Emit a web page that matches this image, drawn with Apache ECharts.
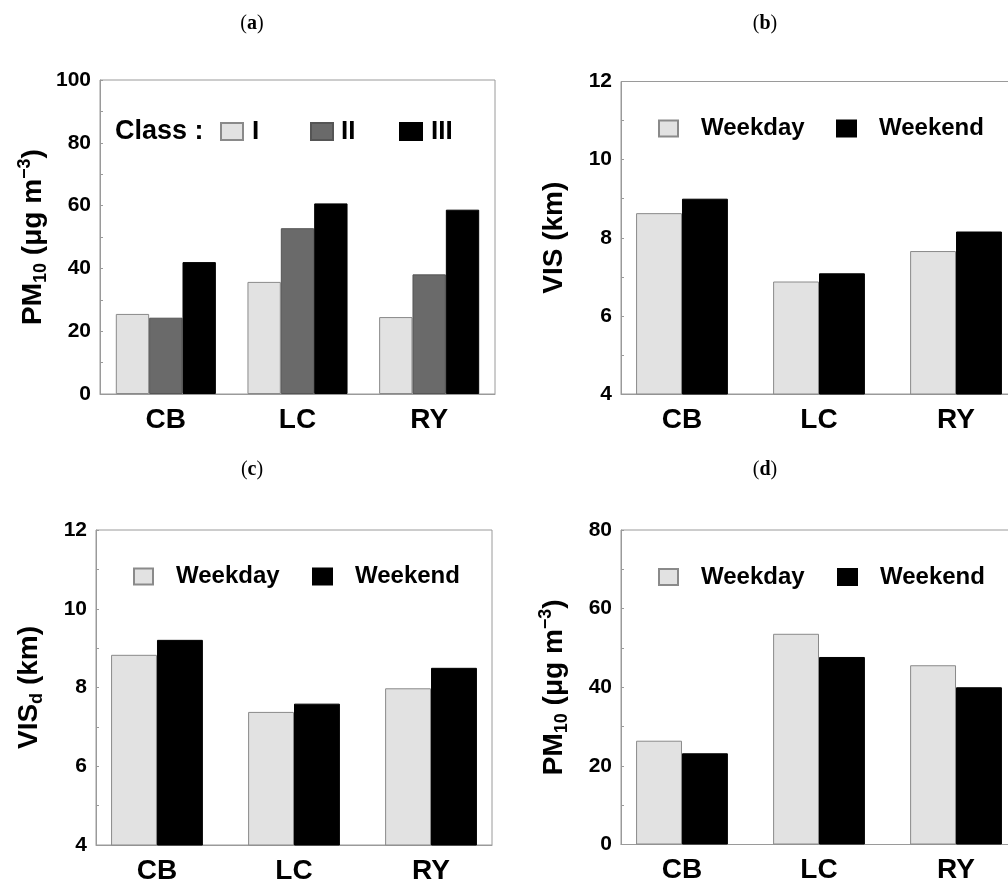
<!DOCTYPE html>
<html>
<head>
<meta charset="utf-8">
<script src="https://cdn.jsdelivr.net/npm/echarts@6/dist/echarts.min.js"></script>
<style>
html,body{margin:0;padding:0;background:#fff;overflow:hidden;}
#c{width:1030px;height:885px;}
</style>
</head>
<body>
<div id="c"></div>
<script>
// ---- data ----
const categories = ['CB', 'LC', 'RY'];
const classNames = ['I', 'II', 'III'];
const pm10ClassI   = [25.5, 35.7, 24.5];
const pm10ClassII  = [24.3, 52.8, 38.1];
const pm10ClassIII = [42.0, 60.7, 58.7];
const visWeekday   = [8.63, 6.88, 7.66];
const visWeekend   = [9.00, 7.09, 8.16];
const visdWeekday  = [8.83, 7.38, 7.98];
const visdWeekend  = [9.21, 7.59, 8.50];
const pmWeekday    = [26.4, 53.6, 45.6];
const pmWeekend    = [23.2, 47.7, 40.0];
const panelLabels  = ['a', 'b', 'c', 'd'];
const yNameA = '{b|PM}{sub|10}{b| (μg m}{sup|−3}{b|)}';
const yNameB = '{b|VIS (km)}';
const yNameC = '{b|VIS}{sub|d}{b| (km)}';
const yNameD = yNameA;

// ---- styles ----
const FONT = 'Liberation Sans';
const AXIS_COLOR = '#9a9a9a';
const LIGHT = {color: '#e2e2e2', borderColor: '#8a8a8a', borderWidth: 1};
const MID = {color: '#6a6a6a', borderColor: '#555', borderWidth: 1};
const DARK = {color: '#000', borderColor: '#000', borderWidth: 1};

const nameRich = {
  b: {fontFamily: FONT, fontWeight: 'bold', fontSize: 28, color: '#000', lineHeight: 34},
  sub: {fontFamily: FONT, fontWeight: 'bold', fontSize: 18, color: '#000', lineHeight: 18, verticalAlign: 'bottom'},
  sup: {fontFamily: FONT, fontWeight: 'bold', fontSize: 18, color: '#000', lineHeight: 18, verticalAlign: 'top'}
};

const grids = [
  {left: 100, top: 80, width: 395, height: 314},
  {left: 621, top: 81.5, width: 396, height: 312.5},
  {left: 96, top: 530, width: 396, height: 315.5},
  {left: 621, top: 530, width: 396, height: 314.5}
].map(g => Object.assign({show: true, borderColor: AXIS_COLOR, borderWidth: 1, backgroundColor: 'transparent', containLabel: false}, g));

function xAxis(i, min, max) {
  return {
    type: 'value', gridIndex: i, min: min, max: max,
    axisLine: {show: true, onZero: false, lineStyle: {color: AXIS_COLOR, width: 1}},
    axisTick: {show: false},
    splitLine: {show: false},
    axisLabel: {
      customValues: categories.map((c, k) => k),
      formatter: v => categories[Math.round(v)],
      fontFamily: FONT, fontWeight: 'bold', fontSize: 28, color: '#000', margin: 12
    }
  };
}
function yAxis(i, min, max, interval, name) {
  return {
    type: 'value', gridIndex: i, min: min, max: max, interval: interval,
    name: name, nameLocation: 'middle', nameGap: 50, nameRotate: 90,
    nameTextStyle: {rich: nameRich},
    axisLine: {show: true, onZero: false, lineStyle: {color: AXIS_COLOR, width: 1}},
    axisTick: {show: true, inside: true, length: 3, lineStyle: {color: AXIS_COLOR}},
    minorTick: {show: true, splitNumber: 2, length: 3, lineStyle: {color: AXIS_COLOR}},
    splitLine: {show: false},
    axisLabel: {fontFamily: FONT, fontWeight: 'bold', fontSize: 21, color: '#000', margin: 9}
  };
}
const toPts = arr => arr.map((v, k) => [k, v]);
function bar(name, i, vals, style, gap) {
  return {
    type: 'bar', name: name, xAxisIndex: i, yAxisIndex: i,
    data: toPts(vals), itemStyle: style, barGap: '0%', barCategoryGap: gap,
    silent: true, animation: false
  };
}
function legend(name, left, top, fontSize, pad) {
  return {
    data: [{name: name, icon: 'rect'}], left: left, top: top, padding: 0, selectedMode: false,
    itemWidth: fontSize > 25 ? 22 : 19, itemHeight: fontSize > 25 ? 17 : 16,
    textStyle: {fontFamily: FONT, fontWeight: 'bold', fontSize: fontSize, color: '#000', padding: [0, 0, 0, pad]}
  };
}
function panelTitle(letter, x, y) {
  return {
    type: 'text', x: x, y: y,
    style: {
      text: '{p|(}{l|' + letter + '}{p|)}',
      align: 'center', verticalAlign: 'middle',
      rich: {
        p: {fontFamily: 'Liberation Serif', fontSize: 20, color: '#000'},
        l: {fontFamily: 'Liberation Serif', fontSize: 20, fontWeight: 'bold', color: '#000'}
      }
    }
  };
}

const option = {
  animation: false,
  backgroundColor: '#fff',
  grid: grids,
  xAxis: [xAxis(0, -0.5, 2.5), xAxis(1, -0.445, 2.445), xAxis(2, -0.445, 2.445), xAxis(3, -0.445, 2.445)],
  yAxis: [yAxis(0, 0, 100, 20, yNameA), yAxis(1, 4, 12, 2, yNameB), yAxis(2, 4, 12, 2, yNameC), yAxis(3, 0, 80, 20, yNameD)],
  legend: [
    legend(classNames[0], 220, 118.5, 26, 4),
    legend(classNames[1], 310, 118.5, 26, 3),
    legend(classNames[2], 399, 118.5, 26, 4),
    legend('Weekday', 658, 116.5, 24, 18),
    legend('Weekend', 836, 116.5, 24, 18),
    legend('Weekday', 133, 564.5, 24, 18),
    legend('Weekend', 312, 564.5, 24, 18),
    legend('Weekday', 658, 565, 24, 18),
    legend('Weekend', 837, 565, 24, 18)
  ],
  graphic: [
    panelTitle(panelLabels[0], 252, 24),
    panelTitle(panelLabels[1], 765, 24),
    panelTitle(panelLabels[2], 252, 470),
    panelTitle(panelLabels[3], 765, 470),
    {type: 'text', x: 115, y: 132, style: {text: 'Class :', fontFamily: FONT, fontWeight: 'bold', fontSize: 27, fill: '#000', verticalAlign: 'middle'}}
  ],
  series: [
    bar(classNames[0], 0, pm10ClassI, LIGHT, '24%'),
    bar(classNames[1], 0, pm10ClassII, MID, '24%'),
    bar(classNames[2], 0, pm10ClassIII, DARK, '24%'),
    bar('Weekday', 1, visWeekday, LIGHT, '33%'),
    bar('Weekend', 1, visWeekend, DARK, '33%'),
    bar('Weekday', 2, visdWeekday, LIGHT, '33%'),
    bar('Weekend', 2, visdWeekend, DARK, '33%'),
    bar('Weekday', 3, pmWeekday, LIGHT, '33%'),
    bar('Weekend', 3, pmWeekend, DARK, '33%')
  ]
};
const chart = echarts.init(document.getElementById('c'), null, {renderer: 'canvas'});
chart.setOption(option);
</script>
</body>
</html>
